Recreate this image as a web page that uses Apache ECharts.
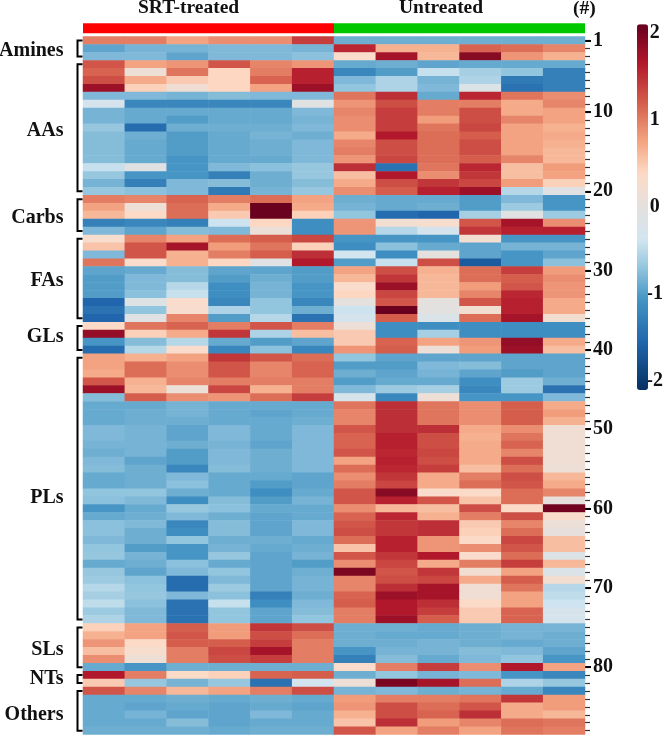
<!DOCTYPE html>
<html><head><meta charset="utf-8">
<style>html,body{margin:0;padding:0;background:#fff}#c{width:666px;height:736px}</style>
<script src="https://cdn.jsdelivr.net/npm/echarts@6/dist/echarts.min.js"></script>
</head><body><div id="c"></div>
<script>
const samples = ['S1','S2','S3','S4','S5','S6','U1','U2','U3','U4','U5','U6'];
const amines = [
[1.0,1.0,.76,.9,.9,1.4, -.87,-.87,-.87,-.87,-.87,-.87],
[-.94,-.83,-.83,-.79,-.79,-.83, 1.55,.67,.67,1.16,1.1,.95],
[-.79,-.79,-.94,-.79,-.79,-.73, .32,1.72,.63,1.9,.85,.67]];
const aas = [
[1.25,.76,.85,1.25,.95,.85, -.9,-.87,-.94,-.9,-.9,-.9],
[1.16,.14,1.05,.41,1.0,1.6, -1.2,-1.0,-.43,-.6,-.7,-1.27],
[1.3,.71,.5,.41,1.16,1.6, -.79,-.56,-.83,-.56,-1.34,-1.27],
[1.78,.45,.18,.41,.76,1.78, -.7,-.56,-.79,-.18,-1.42,-1.27],
[-.79,-.79,-.83,-.76,-.79,-.79, 1.05,1.5,-.9,1.55,1.05,.9],
[-.3,-1.2,-1.2,-1.2,-1.2,-.1, .85,1.3,1.0,1.0,.71,.95],
[-.83,-.9,-.9,-.9,-.9,-.79, .95,1.4,1.0,1.3,.71,.76],
[-.83,-.9,-1.0,-.9,-.9,-.83, .9,1.4,.8,1.3,.95,.76],
[-.68,-1.48,-.87,-.87,-.87,-.79, .9,1.4,1.05,1.35,.76,.67],
[-.76,-.87,-1.0,-.9,-.83,-.87, .71,1.65,1.1,1.2,.76,.71],
[-.76,-.9,-1.0,-.9,-.87,-.79, .95,1.3,1.1,1.3,.76,.67],
[-.76,-.9,-1.0,-.9,-.87,-.79, 1.0,1.3,1.1,1.3,.76,.63],
[-.76,-.9,-1.06,-.9,-.9,-.79, .85,1.35,1.1,1.2,.95,.63],
[-.43,-.1,-1.06,-.79,-.73,-.68, 1.5,-1.42,1.05,1.55,.58,.8],
[-.68,-1.06,-1.06,-1.27,-.87,-.68, .58,1.65,.9,1.45,.58,.76],
[-.83,-1.27,-.79,-.76,-.87,-.76, .71,1.3,1.45,1.35,.8,.45],
[-.68,-.73,-.79,-1.34,-.83,-.68, .9,1.2,1.6,1.78,-.52,-.1]];
const carbs = [
[1.0,.95,1.16,1.0,1.1,.76, -.87,-.9,-.9,-1.0,-.79,-1.06],
[.76,.14,1.1,.71,2.08,.71, -.83,-.9,-.87,-1.0,-.65,-1.06],
[.63,.36,1.1,.5,2.08,.45, -.7,-1.48,-1.55,-.6,-.1,-.65],
[-1.27,-1.2,-1.27,-.4,.41,-1.12, .85,.22,.27,1.25,1.72,.9],
[-.79,-.94,-.76,-.79,.1,-1.12, .85,-.52,-.3,1.45,1.6,1.6]];
const fas = [
[.27,.95,.76,1.1,1.2,1.35, -1.06,-1.06,-1.06,.22,-1.06,-1.06],
[.54,1.25,1.72,.8,1.05,.45, -1.12,-.73,-.9,-.94,-.83,-.83],
[-.79,1.25,.67,1.0,1.2,1.5, -.35,-1.12,0,-.94,-1.06,-.94],
[1.05,.32,.67,.41,-.1,1.65, -1.0,-.43,1.3,-1.65,-1.06,-.73],
[-.94,-.9,-.76,-.94,-.94,-1.0, .76,1.3,.67,1.1,1.4,.8],
[-1.0,-.79,-.76,-1.0,-.87,-1.0, .63,1.45,.63,1.1,1.2,.9],
[-1.0,-.79,-.52,-1.12,-.83,-1.06, .32,1.78,.63,.8,1.25,.85],
[-1.0,-.73,-.43,-1.12,-.83,-1.06, .41,1.35,.63,.95,1.55,.85],
[-1.55,-.14,.32,-1.2,-.7,-1.2, 0,1.25,0,1.25,1.6,.71],
[-1.42,-.7,.27,-.56,-.7,-.87, -.4,2.08,-.05,.22,1.6,.71],
[-1.55,-.1,.95,-1.0,-.52,-1.42, -.3,1.2,-.22,1.1,1.72,.22]];
const gls = [
[.36,1.05,1.16,1.0,1.25,1.0, .1,-1.12,-1.12,-1.12,-1.12,-1.12],
[1.84,.45,.71,1.45,-.56,.58, .5,-1.12,-.6,-1.12,-1.12,-1.12],
[-1.06,-.76,-.52,-.9,-1.0,-.94, .5,1.16,.76,.85,1.84,.71],
[-1.48,-.52,.32,-1.2,-.73,-1.2, .85,1.2,.1,.8,1.78,.58]];
const pls = [
[.76,.67,.76,1.45,1.25,1.1, -.7,-.94,-.94,-.94,-.94,-.94],
[.76,1.1,.9,1.25,.95,1.16, -1.0,-1.0,-.79,-.76,-.94,-.94],
[.71,1.1,.9,1.25,.95,1.16, -.87,-.94,-.83,-.94,-1.0,-.94],
[1.25,.67,.95,1.0,1.0,1.0, -1.0,-.9,-.9,-1.12,-.65,-.87],
[1.78,.63,.1,1.35,.67,1.0, -.79,-.65,-.6,-1.2,-.65,-1.42],
[-.76,1.2,.9,.85,1.1,1.4, -.27,-1.2,.14,-1.06,-1.06,-.79],
[-.9,-.9,-.83,-.9,-.9,-.9, 1.05,1.5,1.05,.9,1.2,.71],
[-.9,-.87,-.83,-.9,-.94,-.9, .95,1.5,1.05,.9,1.2,.8],
[-.9,-.87,-.87,-.9,-.9,-.87, .95,1.5,1.05,.9,1.2,.67],
[-.79,-.83,-.94,-.79,-.9,-.79, 1.25,1.5,1.5,.71,.9,.18],
[-.79,-.83,-.94,-.79,-.9,-.79, 1.16,1.6,1.3,.67,1.05,.18],
[-.83,-.83,-.87,-.83,-.94,-.79, 1.16,1.6,1.3,.71,1.16,.18],
[-.87,-.83,-1.0,-.79,-.87,-.79, 1.25,1.55,1.35,.71,.95,.18],
[-.79,-.94,-1.0,-.79,-.87,-.79, .76,1.6,1.3,.71,1.3,.18],
[-.76,-.87,-1.2,-.76,-.87,-.79, 1.1,1.55,1.4,.58,1.1,.14],
[-.9,-.87,-.79,-.9,-.9,-.94, .9,1.45,.71,1.0,1.3,.63],
[-.9,-.87,-.73,-.9,-1.0,-.94, 1.0,1.35,.71,1.1,1.25,.71],
[-.7,-.7,-.87,-.9,-1.12,-.9, 1.25,1.9,.32,.36,1.1,.95],
[-.73,-.79,-1.12,-.76,-1.0,-.83, 1.25,1.6,1.25,.54,1.1,.05],
[-1.06,-.9,-.68,-.73,-.9,-.9, .9,.63,.58,1.3,.36,2.04],
[-.9,-.87,-.79,-.87,-.94,-.9, 1.16,1.55,.67,1.0,1.3,.32],
[-.73,-.79,-1.2,-.76,-.94,-.79, 1.25,1.45,1.5,.5,.95,.1],
[-.73,-.87,-1.12,-.76,-.94,-.79, 1.3,1.45,1.5,.45,1.1,.05],
[-.79,-.87,-.7,-.87,-.87,-.9, 1.1,1.6,.85,.36,1.35,.58],
[-.7,-1.0,-1.06,-.83,-.9,-.87, .54,1.6,.85,.9,1.25,.58],
[-.68,-.83,-1.06,-.68,-.94,-.83, 1.25,1.45,1.65,.32,1.1,-.18],
[-.9,-.87,-.73,-.9,-.94,-1.0, .9,1.35,.71,1.0,1.4,.63],
[-.68,-.94,-.79,-.7,-.94,-.87, 1.98,1.25,1.45,.22,.76,-.22],
[-.65,-.73,-1.48,-.79,-.94,-.83, .95,1.3,1.35,.71,1.2,.22],
[-.52,-.7,-1.48,-.65,-.94,-.83, .95,1.5,1.72,.18,1.05,-.52],
[-.6,-.68,-.79,-.73,-1.27,-.87, 1.16,1.78,1.72,.18,.76,-.47],
[-.47,-.73,-1.42,-.43,-1.12,-.79, 1.2,1.65,1.5,.36,.76,-.4],
[-.65,-.79,-1.42,-.7,-.94,-.76, 1.0,1.65,1.4,.5,1.16,-.27],
[-.56,-.79,-1.42,-.7,-.94,-.7, 1.0,1.78,1.2,.5,1.16,-.3]];
const sls = [
[.45,.76,1.2,.8,1.45,1.3, -.87,-.87,-.9,-.87,-.83,-.83],
[.67,.76,1.25,.8,1.3,1.1, -.87,-.9,-.9,-.87,-.83,-.87],
[.85,.36,1.2,1.2,1.4,1.0, -.87,-.87,-.83,-.87,-.9,-.87],
[.58,.27,1.0,1.35,1.72,1.0, -1.06,-.83,-.83,-.76,-.79,-.94],
[.9,.14,1.0,1.3,1.4,1.0, -1.27,-.76,-.9,-.79,-.7,-1.06],
[-.9,-1.06,-.87,-.87,-.87,-.87, .32,1.0,1.4,.9,1.65,.76]];
const nts = [
[1.65,1.0,.36,.45,1.16,1.2, -.87,-.7,-.83,-.79,-1.06,-1.2],
[.5,-.68,-.83,-.68,-1.42,-.35, .14,1.98,1.72,1.1,-.56,-.68]];
const others = [
[1.25,.95,.63,.76,1.0,1.3, -.83,-.79,-.87,-.83,-.9,-1.2],
[-.9,-.9,-.87,-.9,-.87,-.9, .8,1.0,1.0,1.05,1.45,.8],
[-.9,-.94,-.9,-.94,-.9,-.94, .85,1.3,1.1,1.25,.71,.8],
[-.9,-.83,-.94,-.94,-.79,-.9, .67,1.3,1.16,1.5,.71,.63],
[-.9,-.9,-.76,-.94,-.9,-.9, .54,1.5,.8,.95,1.1,1.05],
[-.87,-.87,-.87,-.9,-.87,-.87, 1.25,.76,1.0,.76,1.05,1.0]];
const groupNames = ['Amines','AAs','Carbs','FAs','GLs','PLs','SLs','NTs','Others'];
const groupRows = [amines,aas,carbs,fas,gls,pls,sls,nts,others];
const majorTicks = [1,10,20,30,40,50,60,70,80];
const colorTicks = [-2,-1,0,1,2];
const conditions = ['SRT-treated','Untreated'];
const conditionSizes = [6,6];
const rampValues = [-2.1,-1.55,-1.07,-0.7,-0.38,0,0.38,0.75,1.18,1.65,2.1];
const rampColors = ['#053061','#2166ac','#4393c3','#92c5de','#d1e5f0','#e4e0de','#fddbc7','#f4a582','#d6604d','#b2182b','#67001f'];

// Resample the unevenly spaced colour bar stops into the even stops visualMap expects.
function resampleRamp(n){
 const out=[];
 for(let i=0;i<n;i++){
  const v=rampValues[0]+(rampValues[rampValues.length-1]-rampValues[0])*i/(n-1);
  let k=0; while(k<rampValues.length-2&&v>rampValues[k+1])k++;
  const t=(v-rampValues[k])/(rampValues[k+1]-rampValues[k]);
  out.push(echarts.color.lerp(t,[rampColors[k],rampColors[k+1]]));
 }
 return out;
}

const rows = groupRows.flat();
const rowNames = rows.map((_,i)=>String(i+1));
const cells = [];
rows.forEach((r,y)=>r.forEach((v,x)=>cells.push([x,y,v])));
let cursor = 0;
const spans = groupRows.map(g=>{const s=[0,cursor,cursor+g.length-1];cursor+=g.length;return s;});
const labelDy = [2,3.5,2.5,2,-1.5,9.5,2,0,4.5];
const SERIF = '"Liberation Serif","Times New Roman",serif';
const INK = '#111';

const chart = echarts.init(document.getElementById('c'),null,{renderer:'canvas'});
chart.setOption({
 animation:false, backgroundColor:'#fff',
 grid:[
  {left:83,top:36.6,width:502,height:698},
  {left:83,top:23.3,width:502,height:10},
  {left:637,top:24.3,width:11,height:365.7}
 ],
 xAxis:[
  {gridIndex:0,type:'category',data:samples,show:false},
  {gridIndex:1,type:'value',min:0,max:12,show:false},
  {gridIndex:2,type:'value',show:false}
 ],
 yAxis:[
  {gridIndex:0,type:'category',data:rowNames,inverse:true,position:'right',
   axisLine:{show:false},
   axisTick:{show:true,length:5,alignWithLabel:true,interval:0,lineStyle:{color:'#333',width:1.2}},
   axisLabel:{show:false},splitLine:{show:false}},
  {gridIndex:0,type:'category',data:rowNames,inverse:true,position:'right',
   axisLine:{show:false},
   axisTick:{show:true,length:6,alignWithLabel:true,
     interval:i=>majorTicks.includes(i+1),lineStyle:{color:'#000',width:2}},
   axisLabel:{show:true,margin:8,fontFamily:SERIF,fontWeight:'bold',fontSize:20,color:INK,
     interval:i=>majorTicks.includes(i+1)},
   splitLine:{show:false}},
  {gridIndex:1,type:'category',data:['group'],show:false},
  {gridIndex:2,type:'value',min:-2.1,max:2.1,position:'right',
   axisLine:{show:false},axisTick:{show:false},splitLine:{show:false},
   axisLabel:{show:true,margin:10,align:'center',fontFamily:SERIF,fontWeight:'bold',fontSize:20,color:INK,
     customValues:colorTicks,formatter:v=>String(v)}}
 ],
 visualMap:{type:'continuous',seriesIndex:0,min:-2.1,max:2.1,calculable:false,realtime:false,
  left:637,top:24.3,itemWidth:11,itemHeight:365.7,text:['',''],textGap:0,padding:0,
  inRange:{color:resampleRamp(85)}},
 series:[
  {type:'heatmap',xAxisIndex:0,yAxisIndex:0,data:cells,silent:true,progressive:0,
   itemStyle:{borderWidth:0}},
  {type:'bar',xAxisIndex:1,yAxisIndex:2,stack:'g',barWidth:'100%',data:[conditionSizes[0]],name:conditions[0],silent:true,itemStyle:{color:'#fe0000'}},
  {type:'bar',xAxisIndex:1,yAxisIndex:2,stack:'g',barWidth:'100%',data:[conditionSizes[1]],name:conditions[1],silent:true,itemStyle:{color:'#00c800'}},
  {type:'custom',xAxisIndex:0,yAxisIndex:0,silent:true,data:spans,encode:{x:0,y:[1,2]},clip:false,
   renderItem:(p,api)=>{
    const a=api.coord([0,api.value(1)]), b=api.coord([0,api.value(2)]);
    const x0=p.coordSys.x, xv=x0-5.5, arm=x0-0.5;
    const name=groupNames[p.dataIndex];
    return {type:'group',children:[
     {type:'polyline',shape:{points:[[arm,a[1]],[xv,a[1]],[xv,b[1]],[arm,b[1]]]},
      style:{stroke:'#000',lineWidth:2,fill:null}},
     {type:'text',style:{x:x0-19.5,y:(a[1]+b[1])/2+labelDy[p.dataIndex],text:name,
       align:'right',verticalAlign:'middle',fill:INK,
       font:'bold 20px '+SERIF}}
    ]};
   }}
 ],
 graphic:[
  {type:'text',left:138,top:-2,style:{text:conditions[0],fill:INK,font:'bold 19.5px '+SERIF}},
  {type:'text',left:399,top:-2,style:{text:conditions[1],fill:INK,font:'bold 19.5px '+SERIF}},
  {type:'text',left:573,top:-1,style:{text:'(#)',fill:INK,font:'bold 19.5px '+SERIF}}
 ]
});
</script></body></html>
